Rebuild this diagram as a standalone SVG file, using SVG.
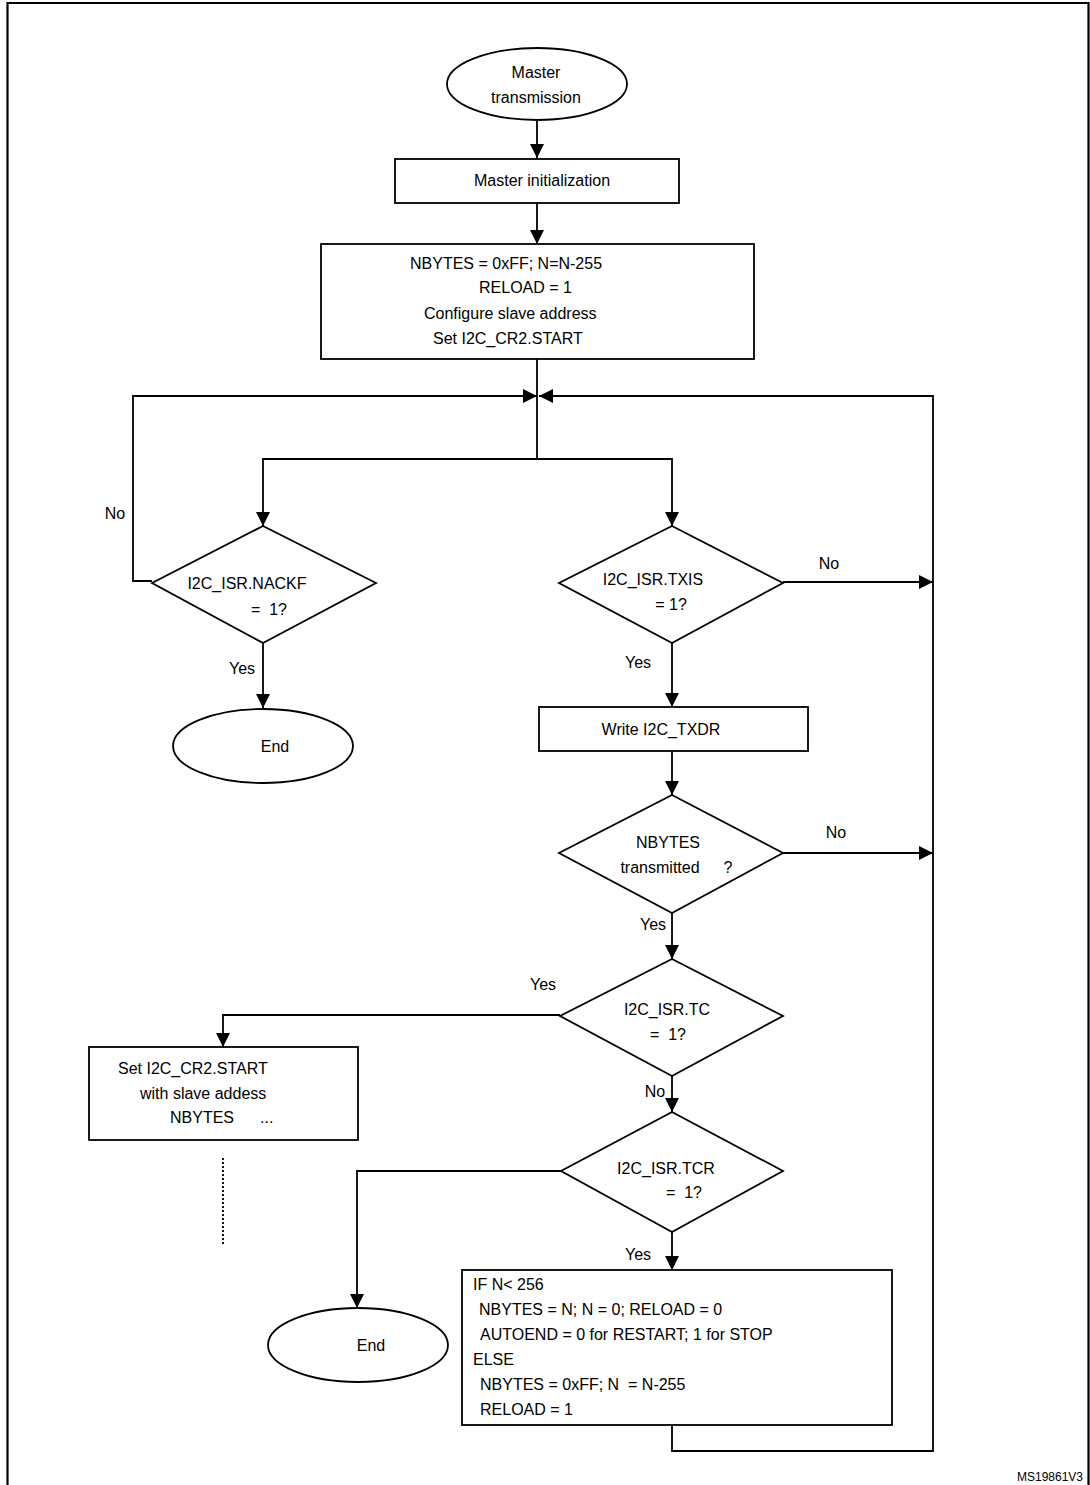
<svg xmlns="http://www.w3.org/2000/svg" width="1090" height="1485" viewBox="0 0 1090 1485" xml:space="preserve">
<defs>
<marker id="arr" markerUnits="userSpaceOnUse" markerWidth="14" markerHeight="14" refX="14" refY="7" orient="auto">
<path d="M0,0 L14,7 L0,14 z" fill="#000"/>
</marker>
</defs>
<style>
.s{fill:#fff;stroke:#000;stroke-width:1.8}
.c{fill:none;stroke:#000;stroke-width:1.8}
.a{marker-end:url(#arr)}
text{font-family:"Liberation Sans",Arial,sans-serif;font-size:16px;fill:#000;white-space:pre}
.m{text-anchor:middle}
</style>
<rect width="1090" height="1485" fill="#fff"/>
<path d="M7.5,1485 V3 H1088.5 V1485" fill="none" stroke="#000" stroke-width="2.2"/>

<g id="connectors">
<path class="c a" d="M537,121 V158"/>
<path class="c a" d="M537,203 V244"/>
<path class="c" d="M537,359 V459"/>
<path class="c a" d="M152,581 H133 V396 H537"/>
<path class="c a" d="M672,1425 V1451 H933 V396 H539"/>
<path class="c a" d="M537,459 H263 V526"/>
<path class="c a" d="M537,459 H672 V526"/>
<path class="c a" d="M263,643 V708"/>
<path class="c a" d="M783,582 H933"/>
<path class="c a" d="M672,643 V707"/>
<path class="c a" d="M672,751 V795"/>
<path class="c a" d="M783,853 H933"/>
<path class="c a" d="M672,913 V959"/>
<path class="c a" d="M560,1015 H223 V1047"/>
<path class="c a" d="M672,1076 V1112"/>
<path class="c a" d="M561,1171 H357 V1308"/>
<path class="c a" d="M672,1232 V1270"/>
<path class="c" d="M223,1158 V1245" stroke-dasharray="2,2"/>
<text x="115" y="519" class="m">No</text>
<text x="242" y="674" class="m">Yes</text>
<text x="829" y="569" class="m">No</text>
<text x="638" y="668" class="m">Yes</text>
<text x="836" y="838" class="m">No</text>
<text x="653" y="930" class="m">Yes</text>
<text x="543" y="990" class="m">Yes</text>
<text x="655" y="1097" class="m">No</text>
<text x="638" y="1260" class="m">Yes</text>
</g>

<g id="start">
<ellipse class="s" cx="537" cy="84" rx="90" ry="36"/>
<text x="536" y="78" class="m">Master</text>
<text x="536" y="103" class="m">transmission</text>
</g>

<g id="init">
<rect class="s" x="395" y="159" width="284" height="44"/>
<text x="542" y="186" class="m">Master initialization</text>
</g>

<g id="config">
<rect class="s" x="321" y="244" width="433" height="115"/>
<text x="410" y="269">NBYTES = 0xFF; N=N-255</text>
<text x="479" y="293">RELOAD = 1</text>
<text x="424" y="319">Configure slave address</text>
<text x="433" y="344">Set I2C_CR2.START</text>
</g>

<g id="nackf">
<polygon class="s" points="263,526 376,583 263,643 152,583"/>
<text x="247" y="589" class="m">I2C_ISR.NACKF</text>
<text x="269" y="615" class="m">=  1?</text>
</g>

<g id="end1">
<ellipse class="s" cx="263" cy="746" rx="90" ry="37"/>
<text x="275" y="752" class="m">End</text>
</g>

<g id="txis">
<polygon class="s" points="672,526 783,583 672,643 559,583"/>
<text x="653" y="585" class="m">I2C_ISR.TXIS</text>
<text x="671" y="610" class="m">= 1?</text>
</g>

<g id="write">
<rect class="s" x="539" y="707" width="269" height="44"/>
<text x="661" y="735" class="m">Write I2C_TXDR</text>
</g>

<g id="nbytes">
<polygon class="s" points="672,795 783,853 672,913 559,853"/>
<text x="668" y="848" class="m">NBYTES</text>
<text x="660" y="873" class="m">transmitted</text>
<text x="728" y="873" class="m">?</text>
</g>

<g id="tc">
<polygon class="s" points="672,959 783,1016 672,1076 560,1016"/>
<text x="667" y="1015" class="m">I2C_ISR.TC</text>
<text x="668" y="1040" class="m">=  1?</text>
</g>

<g id="restart">
<rect class="s" x="89" y="1047" width="269" height="93"/>
<text x="118" y="1074">Set I2C_CR2.START</text>
<text x="140" y="1099">with slave addess</text>
<text x="170" y="1123">NBYTES</text>
<text x="260" y="1123">...</text>
</g>

<g id="tcr">
<polygon class="s" points="672,1112 783,1171 672,1232 561,1171"/>
<text x="666" y="1174" class="m">I2C_ISR.TCR</text>
<text x="684" y="1198" class="m">=  1?</text>
</g>

<g id="end2">
<ellipse class="s" cx="358" cy="1345" rx="90" ry="37"/>
<text x="371" y="1351" class="m">End</text>
</g>

<g id="reload">
<rect class="s" x="462" y="1270" width="430" height="155"/>
<text x="473" y="1290">IF N&lt; 256</text>
<text x="479" y="1315">NBYTES = N; N = 0; RELOAD = 0</text>
<text x="480" y="1340">AUTOEND = 0 for RESTART; 1 for STOP</text>
<text x="473" y="1365">ELSE</text>
<text x="480" y="1390">NBYTES = 0xFF; N  = N-255</text>
<text x="480" y="1415">RELOAD = 1</text>
</g>

<text x="1083" y="1481" style="font-size:12px;text-anchor:end">MS19861V3</text>
</svg>
